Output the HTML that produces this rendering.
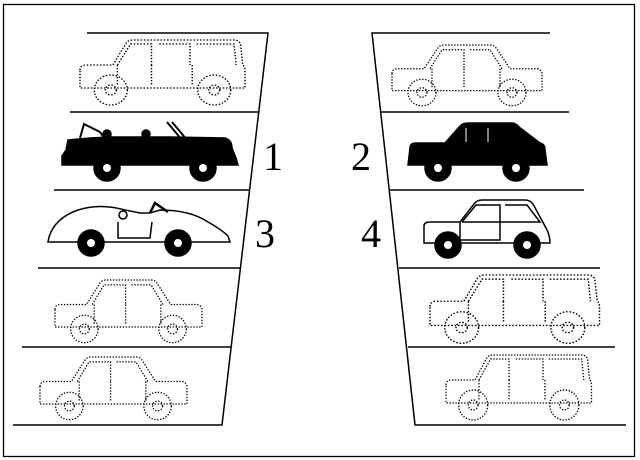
<!DOCTYPE html>
<html><head><meta charset="utf-8"><style>
html,body{margin:0;padding:0;background:#fff;width:640px;height:460px;overflow:hidden}
svg{display:block}
text{font-family:"Liberation Serif",serif;font-size:40px;fill:#000}
</style></head><body>
<svg width="640" height="460" viewBox="0 0 640 460" xmlns="http://www.w3.org/2000/svg">
<defs>
 <g id="sedan">
  <path d="M0,30 Q0,25 6,25 L32,25 L46,3 Q48,0 52,0 L98,0 Q102,0 104,3 L118,25 L145,25 Q150,26 150,31 L150,48 L0,48 Z"/>
  <path d="M38,25 L50,5 L72,5 L72,25 M78,5 L98,5 L110,25 M72,25 L72,45 M40,25 L40,45 M108,25 L108,45"/>
  <circle cx="30" cy="50" r="14"/><circle cx="30" cy="50" r="5"/>
  <circle cx="120" cy="50" r="14"/><circle cx="120" cy="50" r="5"/>
 </g>
 <g id="wagon">
  <path d="M0,30 Q0,25 6,25 L30,25 L42,3 Q44,0 48,0 L140,0 Q145,0 146,5 L148,25 Q150,26 150,31 L150,48 L0,48 Z"/>
  <path d="M34,25 L46,4 L65,4 L65,25 M72,4 L100,4 L100,25 M106,4 L140,4 L142,25 M65,25 L65,45 M102,25 L102,45 M34,25 L34,45"/>
  <circle cx="28" cy="50" r="15"/><circle cx="28" cy="50" r="5"/>
  <circle cx="122" cy="50" r="15"/><circle cx="122" cy="50" r="5"/>
 </g>
</defs>
<rect x="3.5" y="4.5" width="631" height="452" fill="none" stroke="#000" stroke-width="1.3"/>
<g stroke="#000" stroke-width="1.5" fill="none">
 <path d="M87,33 L268,33 L222,425 L13,425"/>
 <path d="M70,112 L258,112 M54,190 L250,190 M38,268 L240,268 M22,347 L231,347"/>
 <path d="M550,33 L372,33 L415,425 L626,425"/>
 <path d="M381,112 L569,112 M389,190 L584,190 M399,268 L600,268 M408,347 L615,347"/>
</g>
<text x="263" y="170">1</text>
<text x="351" y="170">2</text>
<text x="255" y="247">3</text>
<text x="361" y="247">4</text>
<!-- dotted cars -->
<g fill="none" stroke="#000" stroke-width="1.3" stroke-dasharray="1.4 1.6">
 <use href="#wagon" transform="translate(80,40) scale(1.1,1.0)"/>
 <use href="#sedan" transform="translate(55,280) scale(0.98,0.98)"/>
 <use href="#sedan" transform="translate(40,357) scale(0.98,0.98)"/>
 <use href="#sedan" transform="translate(392,45) scale(1.0,0.95)"/>
 <use href="#wagon" transform="translate(430,275) scale(1.13,1.05)"/>
 <use href="#wagon" transform="translate(446,355) scale(0.97,1.0)"/>
</g>
<!-- black convertible -->
<g fill="#000" stroke="#000" stroke-width="1.5">
 <path d="M68,140 L90,138 L110,137 L170,137 L225,138 Q232,140 232,148 L236,158 L238,165 L62,165 L62,156 L66,150 Z"/>
 <path d="M80,138 L84,124 L100,132 L104,138" fill="none" stroke-width="2"/>
 <path d="M167,122 L182,140 M172,122 L187,140" fill="none" stroke-width="2"/>
 <circle cx="107" cy="134" r="4"/><circle cx="146" cy="134" r="4"/>
 <circle cx="107" cy="168" r="13"/><circle cx="203" cy="168" r="13"/>
 <circle cx="107" cy="168" r="4" fill="#fff" stroke="none"/><circle cx="203" cy="168" r="4" fill="#fff" stroke="none"/>
</g>
<!-- sports car -->
<g fill="#fff" stroke="#000" stroke-width="1.5">
 <path d="M49,237 Q55,218 78,210 Q100,203 125,210 L140,213 L150,213 L160,210 Q190,210 208,222 Q222,230 228,236 L230,242 L48,242 Z"/>
 <path d="M118,222 L118,238 L150,238 L152,222" fill="none"/>
 <path d="M150,213 L155,203 L168,212" fill="none" stroke-width="2.5"/>
 <circle cx="123" cy="215" r="4" fill="none"/>
 <circle cx="91" cy="243" r="13" fill="#000"/><circle cx="178" cy="243" r="13" fill="#000"/>
 <circle cx="91" cy="243" r="4" fill="#fff" stroke="none"/><circle cx="178" cy="243" r="4" fill="#fff" stroke="none"/>
</g>
<!-- black sedan -->
<g fill="#000" stroke="#000" stroke-width="1.5">
 <path d="M410,148 Q410,143 416,143 L445,143 L460,126 Q463,123 468,123 L512,123 Q516,123 519,127 L540,143 Q545,144 545,150 L547,165 L408,165 Z"/>
 <circle cx="438" cy="168" r="13"/><circle cx="516" cy="168" r="13"/>
 <circle cx="438" cy="168" r="4" fill="#fff" stroke="none"/><circle cx="516" cy="168" r="4" fill="#fff" stroke="none"/>
</g>
<path d="M466,128 L466,142 M488,128 L488,142" stroke="#fff" stroke-width="1"/>
<!-- small car -->
<g fill="#fff" stroke="#000" stroke-width="1.5">
 <path d="M424,226 Q424,222 430,222 L460,222 L474,204 Q477,200 482,200 L525,200 Q530,200 533,204 L546,228 Q550,235 550,243 L424,243 Z"/>
 <path d="M462,222 L476,205 L500,205 L500,222 M505,205 L527,205 L540,222 L462,222 M460,222 L460,240 L500,240 L500,205" fill="none"/>
 <circle cx="448" cy="245" r="13" fill="#000"/><circle cx="527" cy="245" r="13" fill="#000"/>
 <circle cx="448" cy="245" r="4" fill="#fff" stroke="none"/><circle cx="527" cy="245" r="4" fill="#fff" stroke="none"/>
</g>
</svg>
</body></html>
